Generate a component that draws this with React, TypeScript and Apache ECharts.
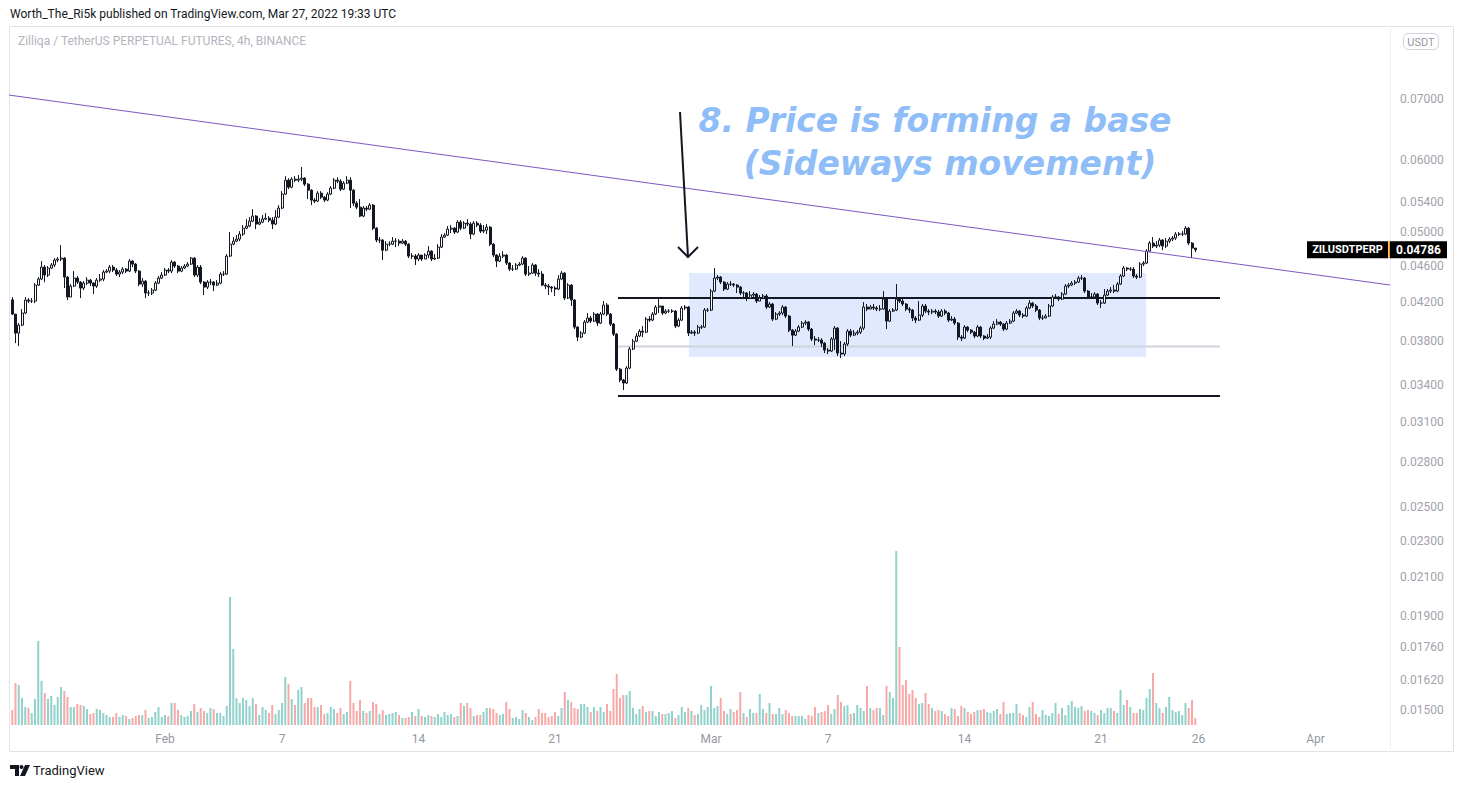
import React, { useEffect, useRef } from "react";
import * as echarts from "echarts";

// Prices are in units of 0.00001 USDT (ZIL/USDT perpetual, 4h candles)
const PRICE_UNIT = 0.00001;
const FIRST_CANDLE = Date.UTC(2022, 0, 24, 4);
const FIRST_OPEN = 4219;

const closeA = [4070,3880,3959,4081,4217,4206,4206,4379,4446,4582,
 4491,4571,4606,4664,4676,4687,4468,4249,4368,4457,
 4412,4346,4401,4434,4401,4368,4434,4446,4525,4536,
 4582,4548,4502,4525,4559,4536,4652,4617,4536,4390,
 4423,4292,4292,4324,4401,4457,4491,4548,4536,4640,
 4594,4536,4571,4594,4617,4687,4491,4582,4412,4357,
 4412,4412,4379,4401,4502,4502,4711,4855,4892,4917,
 4980,5055,5081,5145,5211,5107,5132,5171,5184,5158,
 5107,5197,5317,5508,5705,5605,5719,5705,5719,5734,
 5648,5563,5425,5411,5521,5466,5425,5508,5591,5705,
 5690,5577,5662,5705,5563,5384,5330,5211,5317,5303,
 5357,5055,4905,4905,4782,4855,4855,4892,4892];
const highA = [4249,4070,3979,4122,4249,4238,4238,4401,4468,4652,
 4606,4594,4629,4687,4699,4843,4699,4480,4390,4536,
 4480,4423,4423,4468,4446,4412,4457,4502,4548,4559,
 4606,4606,4571,4548,4582,4571,4676,4664,4629,4548,
 4457,4434,4324,4346,4423,4480,4525,4571,4571,4664,
 4652,4606,4594,4617,4640,4699,4699,4606,4606,4423,
 4434,4446,4423,4434,4525,4536,4735,5005,4942,4967,
 5017,5094,5171,5197,5303,5224,5184,5224,5250,5211,
 5197,5290,5357,5549,5763,5734,5748,5763,5778,5896,
 5748,5662,5577,5452,5549,5549,5480,5535,5620,5734,
 5748,5719,5690,5763,5748,5577,5411,5439,5344,5344,
 5384,5371,5068,4942,4917,4892,4892,4942,4930];
const lowA = [4060,3783,3755,3949,4070,4185,4185,4185,4368,4434,
 4412,4468,4559,4582,4640,4652,4346,4217,4249,4357,
 4390,4238,4324,4379,4368,4281,4346,4412,4423,4513,
 4513,4525,4480,4468,4502,4513,4525,4582,4513,4368,
 4357,4238,4260,4270,4313,4390,4446,4480,4513,4513,
 4571,4513,4525,4559,4582,4606,4468,4468,4390,4270,
 4335,4379,4313,4368,4390,4480,4491,4699,4843,4880,
 4892,4955,5043,5068,5132,5043,5094,5119,5158,5132,
 5043,5094,5184,5303,5494,5577,5591,5676,5676,5690,
 5620,5439,5357,5384,5398,5439,5398,5411,5494,5577,
 5662,5549,5563,5648,5317,5344,5303,5197,5197,5276,
 5290,5030,4880,4868,4664,4770,4831,4843,4819];

const closeB = [4868,4892,4855,4711,4711,4676,4723,4676,4723,4770,
 4676,4687,4819,4942,4967,5043,5055,5005,5132,5055,
 5119,5107,4980,5119,5094,5017,5030,5068,4855,4723,
 4652,4711,4723,4629,4559,4559,4606,4617,4687,4502,
 4513,4606,4513,4502,4379,4368,4357,4346,4335,4446,
 4513,4238,4379,4217,3939,3841,3880,3989,4030,3999,
 4070,3979,4070,4164,4070,3969,3870,3543,3447,3421,
 3552,3727,3802,3851,3899,3889,4019,4009,4070,4143,
 4154,4081,4101,4101,4101,3949,4009,4133,4143,3880,
 3889,3880,3939,3939,4112,4112,4313,4457,4468,4412,
 4335,4390,4390,4379,4357,4292,4292,4238,4270,4281,
 4206,4238,4260,4143,4175,4019,4070,4081,4143,4050,
 3909,3860,3899,3939];
const highB = [4917,4917,4905,4868,4746,4735,4746,4723,4746,4831,
 4782,4735,4855,4980,4992,5081,5094,5068,5158,5158,
 5145,5171,5132,5145,5145,5119,5094,5107,5081,4868,
 4735,4746,4770,4735,4640,4606,4629,4640,4711,4699,
 4594,4629,4617,4559,4536,4401,4390,4368,4368,4491,
 4536,4525,4401,4390,4227,3949,3899,4009,4081,4050,
 4091,4081,4091,4206,4185,4081,3979,3880,3552,3456,
 3570,3746,3822,3880,3919,3949,4040,4050,4091,4164,
 4238,4154,4122,4122,4122,4112,4030,4154,4164,4154,
 3909,3909,3959,3959,4133,4133,4335,4571,4491,4480,
 4423,4412,4423,4401,4390,4368,4313,4302,4313,4302,
 4292,4270,4281,4281,4196,4185,4091,4101,4164,4154,
 4060,3919,3919,3959];
const lowB = [4831,4855,4831,4687,4676,4606,4652,4652,4676,4687,
 4652,4664,4676,4807,4930,4955,4992,4980,4992,5030,
 5043,5081,4917,4967,5068,4992,4992,4980,4831,4699,
 4582,4640,4687,4606,4536,4536,4548,4594,4606,4480,
 4480,4502,4480,4468,4368,4335,4270,4302,4260,4324,
 4434,4217,4227,4154,3919,3802,3831,3870,3979,3979,
 3989,3949,3969,4060,4050,3949,3851,3525,3429,3361,
 3412,3543,3717,3793,3841,3841,3880,3989,3999,4060,
 4081,4060,4070,4081,4081,3929,3939,3999,4112,3851,
 3870,3851,3870,3919,3929,4091,4101,4302,4434,4390,
 4313,4324,4368,4357,4292,4270,4227,4206,4227,4249,
 4185,4206,4227,4122,4133,3999,4009,4050,4060,4030,
 3889,3755,3851,3889];

const closeC = [3979,3989,3919,3822,3812,3812,3783,3717,3708,3822,
 3929,3689,3680,3774,3899,3860,3880,3889,3929,4143,
 4122,4143,4133,4122,4122,4227,3999,4101,4112,4227,
 4206,4175,4122,4112,4030,4009,4060,4154,4101,4091,
 4101,4091,4050,4101,4081,4009,4019,3979,3841,3831,
 3939,3909,3889,3851,3939,3851,3831,3841,3929,3969,
 3989,3969,3919,3979,3999,4081,4101,4060,4050,4133,
 4185,4154,4112,4030,4030,4050,4154,4249,4249,4227,
 4281,4368,4379,4401,4412,4457,4457,4313,4249,4249,
 4281,4185,4185,4270,4313,4324,4313,4390,4480,4571,
 4559,4559,4480,4468,4617,4629,4770,4868,4831,4843,
 4905,4831,4892,4917,4930,4980,4980,4980,5055,4868,
 4807,4786];
const highC = [3999,4009,3999,3929,3851,3841,3831,3793,3736,3841,
 3949,3939,3802,3793,3919,3919,3909,3909,3949,4196,
 4175,4164,4175,4154,4164,4313,4238,4122,4133,4390,
 4249,4227,4185,4143,4122,4050,4206,4175,4175,4122,
 4122,4122,4112,4122,4122,4091,4050,4040,3989,3860,
 3959,3949,3919,3899,3959,3949,3860,3870,3949,3999,
 4019,3999,3979,3999,4019,4101,4122,4112,4081,4154,
 4217,4196,4175,4122,4060,4070,4175,4270,4281,4260,
 4302,4390,4401,4423,4434,4480,4491,4468,4324,4292,
 4302,4292,4217,4335,4335,4357,4379,4412,4502,4594,
 4582,4582,4582,4502,4640,4652,4794,4892,4942,4892,
 4930,4917,4930,4942,4955,5005,5005,5017,5081,5068,
 4880,4807];
const lowC = [3929,3959,3899,3802,3764,3793,3746,3689,3680,3699,
 3717,3662,3643,3662,3755,3841,3851,3860,3870,3909,
 4101,4122,4112,4101,4101,4112,3919,3989,4091,4101,
 4185,4154,4101,4081,3999,3979,3999,4040,4081,4060,
 4070,4070,4030,4040,4060,3989,3999,3959,3812,3802,
 3822,3889,3870,3831,3841,3831,3812,3822,3822,3919,
 3959,3949,3899,3909,3969,3989,4070,4040,4030,4040,
 4122,4133,4091,4009,4009,4030,4040,4143,4227,4206,
 4217,4270,4346,4368,4379,4401,4434,4292,4227,4227,
 4238,4164,4133,4175,4260,4292,4292,4302,4379,4468,
 4536,4536,4457,4446,4457,4594,4617,4758,4807,4807,
 4819,4782,4807,4868,4892,4905,4955,4955,4967,4843,
 4687,4758];

// Volume (millions of ZIL)
const volumeA = [15,42,40,27,18,17,12,26,84,44,
 32,26,29,20,28,38,34,28,18,18,
 21,20,19,16,11,12,16,15,12,10,
 8,8,12,8,10,9,6,7,9,10,
 10,15,7,8,13,18,8,10,9,22,
 22,15,10,8,9,14,21,13,17,14,
 12,17,16,12,12,9,19,128,76,27,
 22,27,25,19,27,21,10,18,15,12,
 20,11,15,22,48,41,26,20,35,38,
 22,27,27,18,18,20,11,12,18,16,
 12,17,11,13,44,22,14,25,14,12,
 14,23,21,11,15,10,11,12,13,10];
const volumeB = [7,7,8,13,9,16,9,8,10,9,
 8,11,8,13,10,11,8,9,22,19,
 22,17,9,10,10,13,17,17,16,12,
 10,11,23,16,7,8,6,15,12,8,
 5,8,16,12,12,8,9,13,9,17,
 33,25,23,17,16,21,21,18,13,18,
 14,18,13,21,14,36,51,27,30,30,
 34,17,11,16,19,13,14,14,9,13,
 11,11,12,14,7,10,18,13,17,14,
 10,11,20,15,18,39,17,19,27,14,
 11,16,13,15,33,12,8,16,12,12,
 31,16,12,22,11,11,17,11,15,12,
 9,9,9];
const volumeC = [9,6,10,9,18,12,13,14,20,11,
 16,30,23,19,20,11,12,20,17,14,
 39,17,15,17,17,10,39,33,27,174,
 78,40,45,31,35,27,21,22,32,21,
 17,14,15,14,11,9,17,16,9,19,
 17,13,11,13,15,15,16,13,12,14,
 16,11,23,11,12,12,21,12,10,8,
 18,23,11,8,15,10,9,12,22,11,
 17,10,20,24,18,17,19,14,15,14,
 12,10,15,12,17,17,14,12,35,20,
 25,18,12,12,16,15,27,36,52,22,
 17,12,18,28,15,13,14,10,22,17,
 25,7];

const closes = [...closeA, ...closeB, ...closeC];
const highs = [...highA, ...highB, ...highC];
const lows = [...lowA, ...lowB, ...lowC];
const volumes = [...volumeA, ...volumeB, ...volumeC];

const priceTicks = [0.07, 0.06, 0.054, 0.05, 0.046, 0.042, 0.038, 0.034, 0.031, 0.028, 0.025, 0.023, 0.021, 0.019, 0.0176, 0.0162, 0.015];
const timeTickDates = [
  Date.UTC(2022, 1, 1), Date.UTC(2022, 1, 7), Date.UTC(2022, 1, 14), Date.UTC(2022, 1, 21),
  Date.UTC(2022, 2, 1), Date.UTC(2022, 2, 7), Date.UTC(2022, 2, 14), Date.UTC(2022, 2, 21),
  Date.UTC(2022, 2, 26), Date.UTC(2022, 3, 1),
];
const timeTickLabels = ["Feb", "7", "14", "21", "Mar", "7", "14", "21", "26", "Apr"];

// Visible range
const X_MIN = Date.UTC(2022, 0, 24);
const X_MAX = Date.UTC(2022, 3, 4, 19, 41);
const PRICE_MIN = 0.014338;
const PRICE_MAX = 0.084144;

// Drawings
const trendStart = { t: X_MIN, price: 0.0707 };
const trendEnd = { t: X_MAX, price: 0.0438 };
const levelStart = Date.UTC(2022, 1, 24, 5, 30);
const levelEnd = Date.UTC(2022, 2, 27, 2, 30);
const levelResistance = 0.0424;
const levelMid = 0.0375;
const levelSupport = 0.0331;
const boxStart = Date.UTC(2022, 1, 27, 21);
const boxEnd = Date.UTC(2022, 2, 23, 7, 30);
const boxTop = 0.04515;
const boxBottom = 0.03653;

export default function App() {
  const ref = useRef<HTMLDivElement>(null);
  useEffect(() => {
    const chart = echarts.init(ref.current!, null, { renderer: "svg" });
    const lg = (p: number) => Math.log10(p);
    const H4 = 4 * 3600 * 1000;
    const opens = closes.map((_, i) => (i === 0 ? FIRST_OPEN : closes[i - 1]));
    const candleData = closes.map((c, i) => [
      FIRST_CANDLE + i * H4,
      lg(opens[i] * PRICE_UNIT),
      lg(c * PRICE_UNIT),
      lg(lows[i] * PRICE_UNIT),
      lg(highs[i] * PRICE_UNIT),
    ]);
    const volData = volumes.map((v, i) => ({
      value: [FIRST_CANDLE + i * H4, v],
      itemStyle: { color: closes[i] >= opens[i] ? "rgba(38,166,154,0.5)" : "rgba(239,83,80,0.5)" },
    }));
    const levelSeries = (name: string, price: number, color: string) => ({
      name,
      type: "line",
      xAxisIndex: 0,
      yAxisIndex: 0,
      data: [[levelStart, lg(price)], [levelEnd, lg(price)]],
      symbol: "none",
      silent: true,
      z: 1,
      lineStyle: { color, width: 2 },
    });

    const option: any = {
      animation: false,
      backgroundColor: "#ffffff",
      grid: [
        { left: 9, right: 74, top: 26, bottom: 60 },
        { left: 9, right: 74, top: 525, bottom: 63 },
      ],
      xAxis: [
        {
          type: "value",
          gridIndex: 0,
          min: X_MIN,
          max: X_MAX,
          axisLine: { show: false },
          axisTick: { show: false },
          splitLine: { show: false },
          axisLabel: {
            customValues: timeTickDates,
            formatter: (v: number) => {
              const k = timeTickDates.indexOf(v);
              return k >= 0 ? timeTickLabels[k] : "";
            },
            color: "#9598a1",
            fontSize: 12,
            fontFamily: "Roboto",
            margin: 5,
          },
        },
        {
          type: "value",
          gridIndex: 1,
          min: X_MIN,
          max: X_MAX,
          show: false,
        },
      ],
      yAxis: [
        {
          type: "value",
          gridIndex: 0,
          position: "right",
          min: lg(PRICE_MIN),
          max: lg(PRICE_MAX),
          axisLine: { show: true, lineStyle: { color: "#eef0f4" } },
          axisTick: { show: false },
          splitLine: { show: false },
          axisLabel: {
            customValues: priceTicks.map(lg),
            formatter: (v: number) => Math.pow(10, v).toFixed(5),
            color: "#9fa2ab",
            fontSize: 12,
            fontFamily: "Roboto",
            margin: 10,
          },
        },
        { type: "value", gridIndex: 1, min: 0, max: 200, show: false },
      ],
      series: [
        levelSeries("Resistance", levelResistance, "#131722"),
        levelSeries("Range low", levelMid, "#d1d4dc"),
        levelSeries("Support", levelSupport, "#131722"),
        {
          name: "Volume",
          type: "bar",
          xAxisIndex: 1,
          yAxisIndex: 1,
          data: volData,
          barWidth: 2,
          silent: true,
        },
        {
          name: "ZILUSDTPERP",
          type: "candlestick",
          xAxisIndex: 0,
          yAxisIndex: 0,
          data: candleData,
          encode: { x: 0, y: [1, 2, 3, 4] },
          barWidth: 2.5,
          z: 3,
          itemStyle: {
            color: "#ffffff",
            color0: "#131722",
            borderColor: "#131722",
            borderColor0: "#131722",
            borderWidth: 1,
          },
          markArea: {
            silent: true,
            itemStyle: { color: "rgba(41,98,255,0.14)" },
            data: [[{ coord: [boxStart, lg(boxTop)] }, { coord: [boxEnd, lg(boxBottom)] }]],
          },
        },
        {
          name: "Trend line",
          type: "line",
          xAxisIndex: 0,
          yAxisIndex: 0,
          data: [[trendStart.t, lg(trendStart.price)], [trendEnd.t, lg(trendEnd.price)]],
          symbol: "none",
          silent: true,
          z: 5,
          lineStyle: { color: "#7e57c2", width: 1 },
        },
      ],
    };
    chart.setOption(option);

    const lastIdx = closes.length - 1;
    const lastPrice = closes[lastIdx] * PRICE_UNIT;
    const pt = chart.convertToPixel({ gridIndex: 0 } as any, [FIRST_CANDLE + lastIdx * H4, lg(lastPrice)]) as number[];
    const ly = pt[1];

    const annotationFont = {
      fill: "#8fbdf7",
      fontSize: 33,
      fontWeight: "bold",
      fontStyle: "italic",
      fontFamily: "DejaVu Sans",
      textAlign: "center",
      textVerticalAlign: "middle",
    };

    const graphic: any[] = [
      // frame
      { type: "rect", shape: { x: 9.5, y: 26.5, width: 1444, height: 725 }, style: { fill: "none", stroke: "#e0e3eb", lineWidth: 1 }, silent: true, z: 0 },
      { type: "line", shape: { x1: 1390.5, y1: 26, x2: 1390.5, y2: 752 }, style: { stroke: "#eef0f4", lineWidth: 1 }, silent: true },
      // header
      { type: "text", x: 10, y: 14, style: { text: "Worth_The_Ri5k published on TradingView.com, Mar 27, 2022 19:33 UTC", fill: "#131722", fontSize: 12, fontFamily: "Roboto", textVerticalAlign: "middle" } },
      { type: "text", x: 18, y: 41, style: { text: "Zilliqa / TetherUS PERPETUAL FUTURES, 4h, BINANCE", fill: "#b2b5be", fontSize: 12, fontFamily: "Roboto", textVerticalAlign: "middle" } },
      // USDT button
      { type: "rect", shape: { x: 1403.5, y: 33.5, width: 35, height: 16, r: 5 }, style: { fill: "#ffffff", stroke: "#d1d4dc", lineWidth: 1 } },
      { type: "text", x: 1421, y: 42, style: { text: "USDT", fill: "#9598a1", fontSize: 11, fontFamily: "Roboto", textAlign: "center", textVerticalAlign: "middle" } },
      // annotation text
      { type: "text", x: 935, y: 120, z: 100, style: { text: "8. Price is forming a base", ...annotationFont } },
      { type: "text", x: 950, y: 163, z: 100, style: { text: "(Sideways movement)", ...annotationFont } },
      // arrow
      { type: "line", z: 100, shape: { x1: 680, y1: 112, x2: 688, y2: 257 }, style: { stroke: "#131722", lineWidth: 2 } },
      { type: "polyline", z: 100, shape: { points: [[678, 247], [688, 257], [698, 247]] }, style: { stroke: "#131722", lineWidth: 2, fill: "none" } },
      // last price labels
      { type: "rect", z: 100, shape: { x: 1307, y: ly - 8.5, width: 81, height: 17 }, style: { fill: "#000000" } },
      { type: "text", z: 101, x: 1347.5, y: ly, style: { text: "ZILUSDTPERP", fill: "#ffffff", fontSize: 11, fontWeight: "bold", fontFamily: "Roboto", textAlign: "center", textVerticalAlign: "middle" } },
      { type: "rect", z: 100, shape: { x: 1390, y: ly - 8.5, width: 57, height: 17 }, style: { fill: "#000000" } },
      { type: "rect", z: 101, shape: { x: 1388.5, y: ly - 8.5, width: 1.5, height: 17 }, style: { fill: "#ff9800" } },
      { type: "text", z: 101, x: 1418.5, y: ly, style: { text: lastPrice.toFixed(5), fill: "#ffffff", fontSize: 12, fontWeight: "bold", fontFamily: "Roboto", textAlign: "center", textVerticalAlign: "middle" } },
      // footer logo
      { type: "polygon", shape: { points: [[10, 765], [19, 765], [19, 776], [15, 776], [15, 769], [10, 769]] }, style: { fill: "#131722" } },
      { type: "circle", shape: { cx: 21.5, cy: 767, r: 2 }, style: { fill: "#131722" } },
      { type: "polygon", shape: { points: [[25, 765], [30, 765], [25, 776], [20, 776]] }, style: { fill: "#131722" } },
      { type: "text", x: 33, y: 770.5, style: { text: "TradingView", fill: "#131722", fontSize: 13, fontFamily: "Roboto", textVerticalAlign: "middle" } },
    ];
    chart.setOption({ graphic });

    return () => chart.dispose();
  }, []);
  return (
    <div
      ref={ref}
      style={{ position: "fixed", left: 0, top: 0, width: 1464, height: 788, background: "#ffffff" }}
    />
  );
}
